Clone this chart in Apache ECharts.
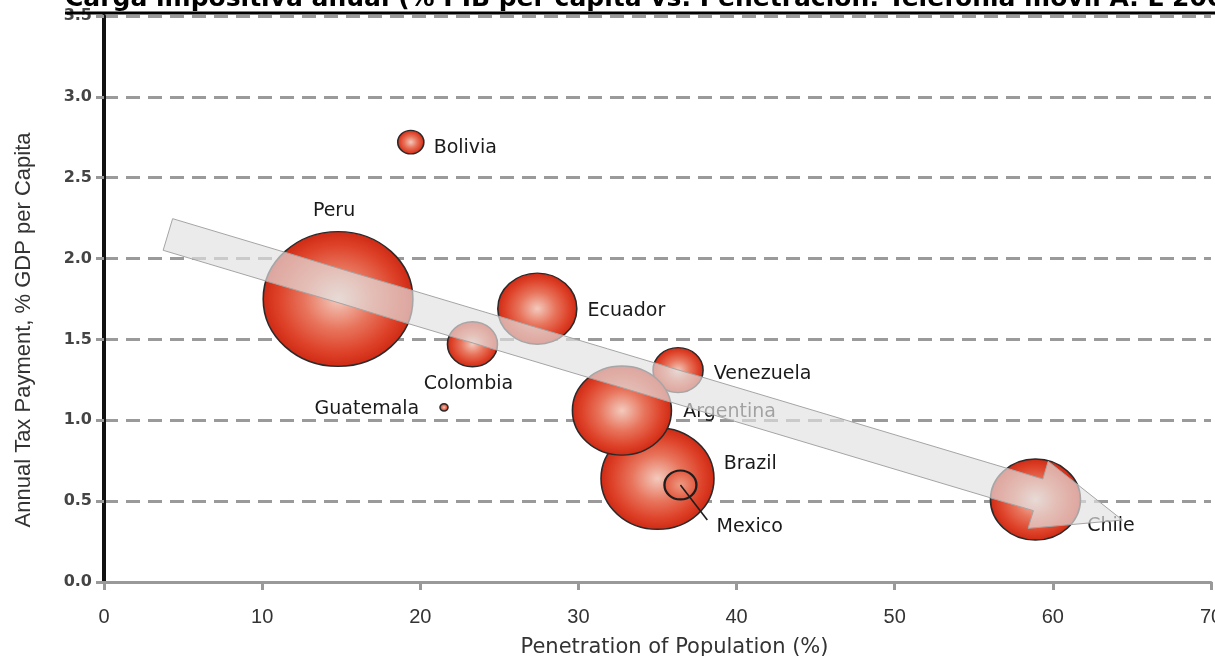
<!DOCTYPE html>
<html><head><meta charset="utf-8">
<script src="https://cdn.jsdelivr.net/npm/echarts@6/dist/echarts.min.js"></script>
<style>html,body{margin:0;padding:0;background:#fff}#chart{width:1215px;height:656px}</style>
</head><body><div id="chart"></div>
<script>
// ---- data ----
const titleText = 'Carga impositiva anual (% PIB per capita vs. Penetración: Telefonía móvil A. L 2007)';
const countries   = ['Peru', 'Ecuador', 'Colombia', 'Bolivia', 'Guatemala', 'Venezuela', 'Brazil', 'Argentina', 'Mexico', 'Chile'];
const penetration = [14.8, 27.4, 23.3, 19.4, 21.5, 36.3, 35.0, 32.75, 36.45, 58.9];
const taxPayment  = [1.75, 1.69, 1.47, 2.72, 1.08, 1.31, 0.64, 1.06, 0.60, 0.51];
const bubbleValue = [56, 15.6, 6.25, 1.7, 0.16, 6.25, 31.9, 24.5, 2.56, 20.25];
const xTickLabels = ['0', '10', '20', '30', '40', '50', '60', '70'];
const yTickLabels = ['0.0', '0.5', '1.0', '1.5', '2.0', '2.5', '3.0', '3.5'];
const trendArrow  = [[4.04, 2.149], [64.4, 0.383]];
const mexicoLeader = [[36.45, 0.60], [38.15, 0.383]];

// ---- label placement (styling) ----
const labelPlacement = {
  Peru:      { position: 'top',    distance: 10, offset: [-4, 0] },
  Ecuador:   { position: 'right',  distance: 10, offset: [0, 2] },
  Colombia:  { position: 'bottom', distance: 7,  offset: [-4, 0] },
  Bolivia:   { position: 'right',  distance: 9,  offset: [0, 6] },
  Guatemala: { position: 'left',   distance: 20, offset: [0, 2] },
  Venezuela: { position: 'right',  distance: 10, offset: [0, 4] },
  Brazil:    { position: 'right',  distance: 9,  offset: [0, -14] },
  Argentina: { position: 'right',  distance: 11, offset: [0, 1] },
  Mexico:    { position: 'right',  distance: 19, offset: [0, 42] },
  Chile:     { position: 'right',  distance: 6,  offset: [0, 27] }
};

const bubbleFill = {
  type: 'radial', x: 0.5, y: 0.5, r: 0.5,
  colorStops: [
    { offset: 0, color: '#f3cabd' },
    { offset: 0.45, color: '#e8745c' },
    { offset: 0.8, color: '#dd4128' },
    { offset: 1, color: '#cf2914' }
  ]
};
const ellipsePath = 'path://M0,50 A50,50 0 1,1 100,50 A50,50 0 1,1 0,50 Z';

const bubbleData = countries.map((c, i) => {
  const p = labelPlacement[c];
  const item = {
    name: c,
    value: [penetration[i], taxPayment[i], bubbleValue[i]],
    label: { show: true, position: p.position, distance: p.distance, offset: p.offset }
  };
  if (c === 'Mexico') {
    item.itemStyle = { borderColor: '#1e1e1e', borderWidth: 2.2, opacity: 1,
      color: { type: 'radial', x: 0.5, y: 0.5, r: 0.5,
        colorStops: [{ offset: 0, color: '#ee9a84' }, { offset: 1, color: '#e2553b' }] } };
  }
  return item;
});

const chart = echarts.init(document.getElementById('chart'), null, { renderer: 'canvas' });

const option = {
  backgroundColor: '#fff',
  animation: false,
  grid: { left: 104, right: 4, top: 16, bottom: 74, containLabel: false, outerBoundsMode: 'none' },
  graphic: [
    { type: 'text', left: 65, top: -13, z: 20,
      style: { text: titleText, font: 'bold 25px "DejaVu Sans"', fill: '#000' } },
    { type: 'line', z: 20, shape: { x1: 65, y1: 13, x2: 1215, y2: 13 },
      style: { stroke: '#000', lineWidth: 3 } }
  ],
  xAxis: {
    type: 'value', min: 0, max: 70, interval: 10,
    name: 'Penetration of Population (%)', nameLocation: 'middle', nameGap: 55,
    nameTextStyle: { fontFamily: 'DejaVu Sans', fontSize: 21, color: '#333', padding: [0, 0, 0, 34] },
    axisLine: { show: true, lineStyle: { color: '#999', width: 3 } },
    axisTick: { show: true, length: 8, lineStyle: { color: '#999', width: 3 } },
    axisLabel: { margin: 25, fontFamily: '"Liberation Sans Narrow", "Liberation Sans"', fontSize: 20, color: '#333',
      formatter: (v) => xTickLabels[Math.round(v / 10)] },
    splitLine: { show: false }
  },
  yAxis: {
    type: 'value', min: 0, max: 3.5, interval: 0.5,
    name: 'Annual Tax Payment, % GDP per Capita', nameLocation: 'middle', nameGap: 69, nameRotate: 90,
    nameTextStyle: { fontFamily: 'Liberation Sans', fontSize: 22, color: '#333', padding: [0, 62, 0, 0] },
    axisLine: { show: true, onZero: false, lineStyle: { color: '#111', width: 4 } },
    axisTick: { show: true, length: 8, lineStyle: { color: '#999', width: 3 } },
    axisLabel: { margin: 12, fontFamily: 'DejaVu Sans', fontWeight: 'bold', fontSize: 16, color: '#444',
      formatter: (v) => yTickLabels[Math.round(v / 0.5)] },
    splitLine: { show: true, lineStyle: { color: '#9a9a9a', width: 3, type: [14, 8] } }
  },
  series: [
    {
      type: 'scatter', z: 2,
      symbol: ellipsePath,
      symbolSize: (val) => { const w = 20 * Math.sqrt(val[2]); return [w, w * 0.9]; },
      itemStyle: { color: bubbleFill, borderColor: '#2a2a2a', borderWidth: 1.5, opacity: 1 },
      label: { fontFamily: 'DejaVu Sans', fontSize: 19, color: '#1a1a1a', formatter: '{b}' },
      emphasis: { disabled: true },
      data: bubbleData
    },
    {
      type: 'line', z: 3, symbol: 'none', silent: true,
      lineStyle: { color: '#1e1e1e', width: 1.6 },
      data: mexicoLeader
    },
    {
      type: 'custom', z: 10, silent: true, clip: false,
      encode: { x: [0, 2], y: [1, 3] },
      data: [[trendArrow[0][0], trendArrow[0][1], trendArrow[1][0], trendArrow[1][1]]],
      renderItem: (params, api) => {
        const s = api.coord([api.value(0), api.value(1)]);
        const t = api.coord([api.value(2), api.value(3)]);
        const dx = t[0] - s[0], dy = t[1] - s[1];
        const L = Math.sqrt(dx * dx + dy * dy);
        const ux = dx / L, uy = dy / L, nx = -uy, ny = ux;
        const w = 16.5, h = 35, hl = 88;
        const b = [t[0] - ux * hl, t[1] - uy * hl];
        const pts = [
          [s[0] + nx * w, s[1] + ny * w],
          [b[0] + nx * w, b[1] + ny * w],
          [b[0] + nx * h, b[1] + ny * h],
          [t[0], t[1]],
          [b[0] - nx * h, b[1] - ny * h],
          [b[0] - nx * w, b[1] - ny * w],
          [s[0] - nx * w, s[1] - ny * w]
        ];
        return { type: 'polygon', shape: { points: pts },
          style: { fill: 'rgba(226,226,226,0.68)', stroke: '#a5a5a5', lineWidth: 1 } };
      }
    }
  ]
};
chart.setOption(option);
</script>
</body></html>
